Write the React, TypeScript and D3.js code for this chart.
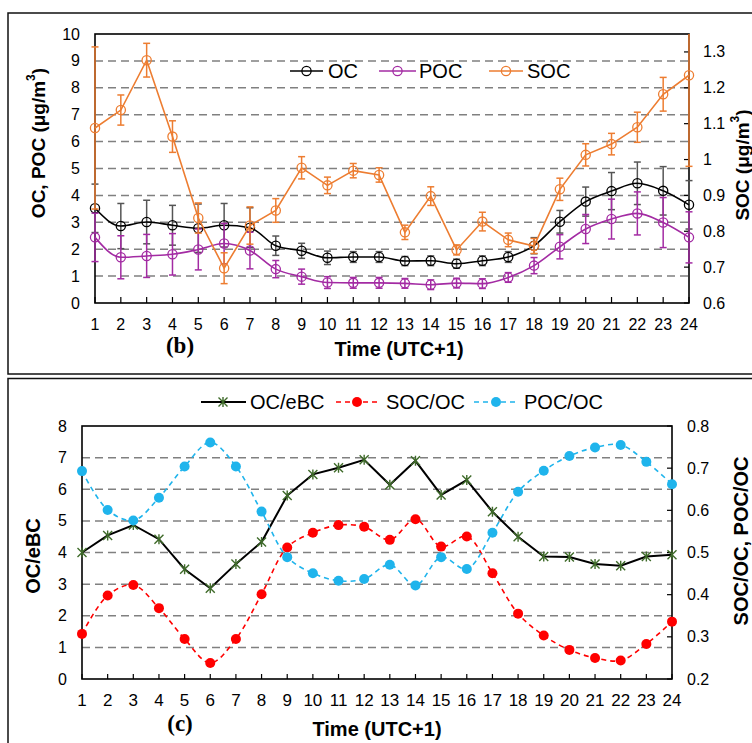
import React from "react";
import * as d3 from "d3";

// ---------- Data ----------
const hours = [1, 2, 3, 4, 5, 6, 7, 8, 9, 10, 11, 12, 13, 14, 15, 16, 17, 18, 19, 20, 21, 22, 23, 24];

// Panel (b): concentrations (µg/m3)
const ocMean = [3.52, 2.86, 3.01, 2.89, 2.78, 2.89, 2.8, 2.13, 1.94, 1.68, 1.71, 1.71, 1.56, 1.57, 1.46, 1.57, 1.71, 2.13, 3.02, 3.77, 4.16, 4.45, 4.17, 3.65];
const ocErr = [0.9, 0.84, 0.81, 0.74, 0.9, 0.81, 0.74, 0.36, 0.28, 0.25, 0.2, 0.2, 0.17, 0.18, 0.17, 0.18, 0.2, 0.3, 0.42, 0.54, 0.69, 0.79, 0.9, 0.9];
const pocMean = [2.44, 1.7, 1.75, 1.81, 1.99, 2.21, 1.95, 1.26, 0.98, 0.76, 0.75, 0.75, 0.73, 0.68, 0.74, 0.72, 0.95, 1.39, 2.09, 2.75, 3.12, 3.33, 2.99, 2.44];
const pocErr = [0.9, 0.8, 0.8, 0.77, 0.76, 0.75, 0.68, 0.32, 0.28, 0.22, 0.2, 0.2, 0.18, 0.18, 0.18, 0.18, 0.18, 0.3, 0.45, 0.54, 0.74, 0.8, 0.93, 0.95];
const socMean = [1.088, 1.138, 1.277, 1.064, 0.837, 0.697, 0.816, 0.858, 0.977, 0.928, 0.969, 0.957, 0.797, 0.898, 0.748, 0.827, 0.776, 0.759, 0.917, 1.013, 1.043, 1.09, 1.182, 1.235];
const socErr = [0.226, 0.042, 0.047, 0.044, 0.042, 0.043, 0.052, 0.033, 0.031, 0.023, 0.02, 0.02, 0.02, 0.026, 0.014, 0.026, 0.019, 0.021, 0.031, 0.031, 0.03, 0.042, 0.047, 0.254];
const leftTicksB = [0, 1, 2, 3, 4, 5, 6, 7, 8, 9, 10];
const rightTicksB = [0.6, 0.7, 0.8, 0.9, 1.0, 1.1, 1.2, 1.3];

// Panel (c): ratios
const ocEbc = [4.0, 4.54, 4.87, 4.42, 3.47, 2.87, 3.64, 4.33, 5.8, 6.47, 6.68, 6.93, 6.14, 6.9, 5.82, 6.29, 5.29, 4.5, 3.87, 3.86, 3.64, 3.58, 3.87, 3.93];
const socOc = [0.307, 0.398, 0.423, 0.368, 0.295, 0.238, 0.295, 0.401, 0.512, 0.547, 0.565, 0.561, 0.53, 0.579, 0.514, 0.538, 0.451, 0.355, 0.303, 0.269, 0.25, 0.244, 0.283, 0.336];
const pocOc = [0.693, 0.601, 0.576, 0.63, 0.704, 0.761, 0.704, 0.597, 0.489, 0.451, 0.433, 0.437, 0.471, 0.422, 0.489, 0.461, 0.547, 0.644, 0.694, 0.729, 0.749, 0.755, 0.715, 0.662];
const leftTicksC = [0, 1, 2, 3, 4, 5, 6, 7, 8];
const rightTicksC = [0.2, 0.3, 0.4, 0.5, 0.6, 0.7, 0.8];

// ---------- Style ----------
const W = 752;
const H = 743;
const FONT = "'Liberation Sans', Arial, Helvetica, sans-serif";
const SERIF = "'Liberation Serif', 'Times New Roman', serif";
const ORANGE = "#ED7D31";
const PURPLE = "#A32BA3";
const OCERR = "#555555";
const BLUE = "#1FB4EC";
const RED = "#FF0000";
const GREEN = "#3F6B2A";
const GRID = "#808080";

const fmt = (v: number) => (Math.abs(v - 1) < 1e-9 ? "1" : String(+v.toFixed(1)));

function ErrorSeries({ x, y, mean, err, color, errColor, curve, clipId }: any) {
  const line = d3
    .line<number>()
    .x((_, i) => x(hours[i]))
    .y((d) => y(d))
    .curve(curve);
  return (
    <g>
      <g clipPath={`url(#${clipId})`} stroke={errColor} strokeWidth={1.5} fill="none">
        {mean.map((m: number, i: number) => {
          const cx = x(hours[i]);
          const y1 = y(m - err[i]);
          const y2 = y(m + err[i]);
          return (
            <g key={i}>
              <line x1={cx} x2={cx} y1={y1} y2={y2} />
              <line x1={cx - 3.5} x2={cx + 3.5} y1={y1} y2={y1} />
              <line x1={cx - 3.5} x2={cx + 3.5} y1={y2} y2={y2} />
            </g>
          );
        })}
      </g>
      <path d={line(mean) || ""} fill="none" stroke={color} strokeWidth={1.6} />
      {mean.map((m: number, i: number) => (
        <circle key={i} cx={x(hours[i])} cy={y(m)} r={4.6} fill="none" stroke={color} strokeWidth={1.3} />
      ))}
    </g>
  );
}

function Star({ cx, cy, color, s = 4.5 }: any) {
  return (
    <path
      d={`M${cx - s},${cy - s}L${cx + s},${cy + s}M${cx - s},${cy + s}L${cx + s},${cy - s}M${cx},${cy - s - 0.5}L${cx},${cy + s + 0.5}`}
      stroke={color}
      strokeWidth={1.4}
      fill="none"
    />
  );
}

function PanelB() {
  const L = 95, R = 689, T = 34, B = 303;
  const x = d3.scaleLinear().domain([1, 24]).range([L, R]);
  const y = d3.scaleLinear().domain([0, 10]).range([B, T]);
  const yr = d3.scaleLinear().domain([0.6, 1.35]).range([B, T]);
  const smooth = d3.curveMonotoneX;
  return (
    <g fontFamily={FONT}>
      <defs>
        <clipPath id="clipB">
          <rect x={0} y={T} width={W} height={B - T} />
        </clipPath>
      </defs>
      {/* frame */}
      <rect x={8} y={13} width={W} height={361} fill="none" stroke="#111" strokeWidth={1.5} />
      {/* grid */}
      {leftTicksB.filter((t) => t > 0 && t < 10).map((t) => (
        <line key={t} x1={L} x2={R} y1={y(t)} y2={y(t)} stroke={GRID} strokeWidth={1.5} strokeDasharray="8,5" />
      ))}
      {/* axes box */}
      <rect x={L} y={T} width={R - L} height={B - T} fill="none" stroke="#000" strokeWidth={1.6} />
      {hours.map((h) => (
        <line key={h} x1={x(h)} x2={x(h)} y1={B} y2={B - 6} stroke="#000" strokeWidth={1.2} />
      ))}
      {rightTicksB.map((t) => (
        <line key={t} x1={R} x2={R - 5} y1={yr(t)} y2={yr(t)} stroke="#000" strokeWidth={1.2} />
      ))}
      {/* tick labels */}
      {leftTicksB.map((t) => (
        <text key={t} x={80} y={y(t)} textAnchor="end" dominantBaseline="central" fontSize={16}>
          {t}
        </text>
      ))}
      {rightTicksB.map((t) => (
        <text key={t} x={703} y={yr(t)} textAnchor="start" dominantBaseline="central" fontSize={16}>
          {fmt(t)}
        </text>
      ))}
      {hours.map((h) => (
        <text key={h} x={x(h)} y={324} textAnchor="middle" dominantBaseline="central" fontSize={16}>
          {h}
        </text>
      ))}
      {/* series */}
      <ErrorSeries x={x} y={y} mean={ocMean} err={ocErr} color="#000" errColor={OCERR} curve={smooth} clipId="clipB" />
      <ErrorSeries x={x} y={y} mean={pocMean} err={pocErr} color={PURPLE} errColor={PURPLE} curve={smooth} clipId="clipB" />
      <ErrorSeries x={x} y={yr} mean={socMean} err={socErr} color={ORANGE} errColor={ORANGE} curve={d3.curveLinear} clipId="clipB" />
      {/* legend */}
      <g fontSize={20}>
        <line x1={290} x2={323} y1={71} y2={71} stroke="#000" strokeWidth={1.6} />
        <circle cx={306.5} cy={71} r={4.6} fill="none" stroke="#000" strokeWidth={1.3} />
        <text x={328} y={71} dominantBaseline="central">OC</text>
        <line x1={379} x2={416} y1={71} y2={71} stroke={PURPLE} strokeWidth={1.6} />
        <circle cx={397.5} cy={71} r={4.6} fill="none" stroke={PURPLE} strokeWidth={1.3} />
        <text x={419} y={71} dominantBaseline="central">POC</text>
        <line x1={489} x2={523} y1={71} y2={71} stroke={ORANGE} strokeWidth={1.6} />
        <circle cx={506} cy={71} r={4.6} fill="none" stroke={ORANGE} strokeWidth={1.3} />
        <text x={527} y={71} dominantBaseline="central">SOC</text>
      </g>
      {/* titles */}
      <text transform="translate(38,143) rotate(-90)" textAnchor="middle" dominantBaseline="central" fontSize={19} fontWeight="bold">
        OC, POC (μg/m<tspan dy={-7} fontSize={12}>3</tspan><tspan dy={7}>)</tspan>
      </text>
      <text transform="translate(742,165) rotate(-90)" textAnchor="middle" dominantBaseline="central" fontSize={19} fontWeight="bold">
        SOC (μg/m<tspan dy={-7} fontSize={12}>3</tspan><tspan dy={7}>)</tspan>
      </text>
      <text x={399} y={349} textAnchor="middle" dominantBaseline="central" fontSize={20} fontWeight="bold">
        Time (UTC+1)
      </text>
      <text x={180} y={345} textAnchor="middle" dominantBaseline="central" fontSize={23} fontWeight="bold" fontFamily={SERIF}>
        (b)
      </text>
    </g>
  );
}

function PanelC() {
  const L = 82, R = 672, T = 426, B = 679;
  const x = d3.scaleLinear().domain([1, 24]).range([L, R]);
  const y = d3.scaleLinear().domain([0, 8]).range([B, T]);
  const yr = d3.scaleLinear().domain([0.2, 0.8]).range([B, T]);
  const smooth = d3.curveCatmullRom.alpha(0.5);
  const lineL = d3.line<number>().x((_, i) => x(hours[i])).y((d) => y(d)).curve(d3.curveLinear);
  const lineR = d3.line<number>().x((_, i) => x(hours[i])).y((d) => yr(d)).curve(smooth);
  return (
    <g fontFamily={FONT}>
      <rect x={8} y={378.5} width={W} height={H} fill="none" stroke="#111" strokeWidth={1.5} />
      {leftTicksC.filter((t) => t > 0 && t < 8).map((t) => (
        <line key={t} x1={L} x2={R} y1={y(t)} y2={y(t)} stroke={GRID} strokeWidth={1.5} strokeDasharray="8,5" />
      ))}
      <rect x={L} y={T} width={R - L} height={B - T} fill="none" stroke="#000" strokeWidth={1.6} />
      {hours.map((h) => (
        <line key={h} x1={x(h)} x2={x(h)} y1={B} y2={B - 5} stroke="#000" strokeWidth={1.2} />
      ))}
      {rightTicksC.map((t) => (
        <line key={t} x1={R} x2={R - 5} y1={yr(t)} y2={yr(t)} stroke="#000" strokeWidth={1.2} />
      ))}
      {leftTicksC.map((t) => (
        <text key={t} x={67} y={y(t)} textAnchor="end" dominantBaseline="central" fontSize={16}>
          {t}
        </text>
      ))}
      {rightTicksC.map((t) => (
        <text key={t} x={687} y={yr(t)} textAnchor="start" dominantBaseline="central" fontSize={16}>
          {fmt(t)}
        </text>
      ))}
      {hours.map((h) => (
        <text key={h} x={x(h)} y={700} textAnchor="middle" dominantBaseline="central" fontSize={17}>
          {h}
        </text>
      ))}
      {/* series */}
      <path d={lineL(ocEbc) || ""} fill="none" stroke="#000" strokeWidth={2} />
      {ocEbc.map((v, i) => (
        <Star key={i} cx={x(hours[i])} cy={y(v)} color={GREEN} />
      ))}
      <path d={lineR(socOc) || ""} fill="none" stroke={RED} strokeWidth={1.6} strokeDasharray="5,4" />
      {socOc.map((v, i) => (
        <circle key={i} cx={x(hours[i])} cy={yr(v)} r={5} fill={RED} />
      ))}
      <path d={lineR(pocOc) || ""} fill="none" stroke={BLUE} strokeWidth={1.6} strokeDasharray="5,4" />
      {pocOc.map((v, i) => (
        <circle key={i} cx={x(hours[i])} cy={yr(v)} r={5} fill={BLUE} />
      ))}
      {/* legend */}
      <g fontSize={20}>
        <line x1={201} x2={246} y1={402} y2={402} stroke="#000" strokeWidth={2} />
        <Star cx={223} cy={402} color={GREEN} />
        <text x={250} y={402} dominantBaseline="central">OC/eBC</text>
        <line x1={336} x2={380} y1={402} y2={402} stroke={RED} strokeWidth={1.6} strokeDasharray="5,4" />
        <circle cx={357} cy={402} r={5} fill={RED} />
        <text x={386} y={402} dominantBaseline="central">SOC/OC</text>
        <line x1={474} x2={517} y1={402} y2={402} stroke={BLUE} strokeWidth={1.6} strokeDasharray="5,4" />
        <circle cx={496} cy={402} r={5} fill={BLUE} />
        <text x={524} y={402} dominantBaseline="central">POC/OC</text>
      </g>
      <text transform="translate(33,556) rotate(-90)" textAnchor="middle" dominantBaseline="central" fontSize={20} fontWeight="bold">
        OC/eBC
      </text>
      <text transform="translate(741,541) rotate(-90)" textAnchor="middle" dominantBaseline="central" fontSize={20} fontWeight="bold">
        SOC/OC, POC/OC
      </text>
      <text x={377} y={729} textAnchor="middle" dominantBaseline="central" fontSize={20} fontWeight="bold">
        Time (UTC+1)
      </text>
      <text x={180} y={723} textAnchor="middle" dominantBaseline="central" fontSize={23} fontWeight="bold" fontFamily={SERIF}>
        (c)
      </text>
    </g>
  );
}

export default function App() {
  return (
    <svg
      width={W}
      height={H}
      viewBox={`0 0 ${W} ${H}`}
      style={{ position: "absolute", left: 0, top: 0, background: "#fff", display: "block" }}
    >
      <rect x={0} y={0} width={W} height={H} fill="#fff" />
      <PanelB />
      <PanelC />
    </svg>
  );
}
